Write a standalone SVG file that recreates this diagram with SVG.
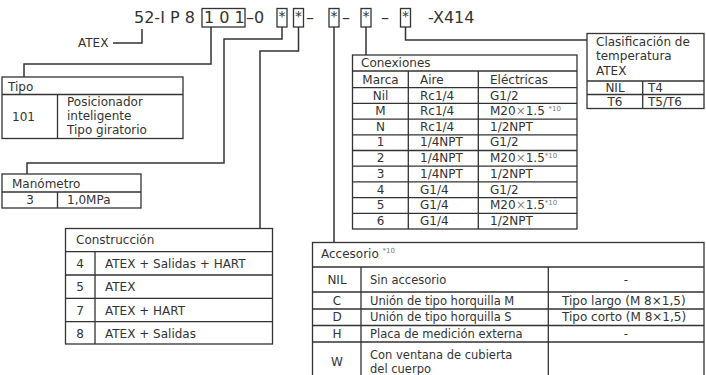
<svg xmlns="http://www.w3.org/2000/svg" width="706" height="375" viewBox="0 0 706 375">
<style>
text{font-family:"DejaVu Sans","Noto Sans",sans-serif;fill:#333;font-size:12px}
.h{font-size:16px}
.c{text-anchor:middle}
.s{font-size:11.5px}
.b{fill:none;stroke:#333;stroke-width:1.3}
.w{fill:#fff;stroke:#333;stroke-width:1.3}
.ln{fill:none;stroke:#333;stroke-width:1.5}
.g{fill:#888}
.sup{font-size:7px;fill:#777}
.ast{font-size:14px}
</style>
<rect width="706" height="375" fill="#fff"/>
<g id="code">
<text class="h" x="134" y="23">52-I P 8</text>
<rect class="b" x="202" y="8.5" width="43" height="18.5"/>
<text class="h" x="204" y="23">1 0 1</text>
<text class="h" x="246" y="23">–0</text>
<rect class="b" x="277" y="8.5" width="10" height="18.5"/>
<text class="ast c" x="282" y="21">*</text>
<rect class="b" x="293.5" y="8.5" width="10" height="18.5"/>
<text class="ast c" x="298.5" y="21">*</text>
<text class="h" x="306" y="23">–</text>
<rect class="b" x="329" y="8.5" width="10" height="18.5"/>
<text class="ast c" x="334" y="21">*</text>
<text class="h" x="342" y="23">–</text>
<rect class="b" x="361" y="8.5" width="10" height="18.5"/>
<text class="ast c" x="366" y="21">*</text>
<text class="h" x="381" y="23">–</text>
<rect class="b" x="400.5" y="8.5" width="10" height="18.5"/>
<text class="ast c" x="405.5" y="21">*</text>
<text class="h" x="428" y="23">-X414</text>
<text x="78" y="47">ATEX</text>
</g>
<g id="connectors">
<path class="ln" d="M113,43 H142 V29"/>
<path class="ln" d="M211,27 V64 H24 V77"/>
<path class="ln" d="M282,27 V39 H224 V163 H27 V174"/>
<path class="ln" d="M298.5,27 V51 H260 V228.5"/>
<path class="ln" d="M334,27 V242.5"/>
<path class="ln" d="M366,27 V55"/>
<path class="ln" d="M405.5,27 V40 H587"/>
</g>
<g id="tipo">
<rect class="w" x="2" y="77" width="181" height="61.5"/>
<path class="b" d="M2,94.5 H183 M57.5,94.5 V138.5"/>
<text x="8" y="91">Tipo</text>
<text x="12" y="121">101</text>
<text x="67" y="106">Posicionador</text>
<text x="67" y="120">inteligente</text>
<text x="67" y="134">Tipo giratorio</text>
</g>
<g id="manometro">
<rect class="w" x="2" y="174" width="139" height="34"/>
<path class="b" d="M2,192 H141 M57.5,192 V208"/>
<text x="12" y="188">Manómetro</text>
<text class="c" x="30" y="204">3</text>
<text x="67" y="204">1,0MPa</text>
</g>
<g id="construccion">
<rect class="w" x="65.5" y="228.5" width="207" height="115.5"/>
<path class="b" d="M65.5,251.7 H272.5 M65.5,275 H272.5 M65.5,298.3 H272.5 M65.5,321.7 H272.5 M95,251.7 V344"/>
<text x="76" y="244">Construcción</text>
<text class="c" x="80" y="268">4</text><text x="105" y="268">ATEX + Salidas + HART</text>
<text class="c" x="80" y="291">5</text><text x="105" y="291">ATEX</text>
<text class="c" x="80" y="314.5">7</text><text x="105" y="314.5">ATEX + HART</text>
<text class="c" x="80" y="338">8</text><text x="105" y="338">ATEX + Salidas</text>
</g>
<g id="conexiones">
<rect class="w" x="352.5" y="55" width="224.5" height="174"/>
<path class="b" d="M352.5,71 H577 M352.5,87.7 H577 M352.5,103.4 H577 M352.5,119.1 H577 M352.5,134.8 H577 M352.5,150.5 H577 M352.5,166.2 H577 M352.5,181.9 H577 M352.5,197.6 H577 M352.5,213.3 H577 M408.3,71 V229 M478.3,71 V229"/>
<text x="361" y="67">Conexiones</text>
<text class="c" x="380.5" y="83.5">Marca</text><text x="420" y="83.5">Aire</text><text x="490" y="83.5">Eléctricas</text>
<text class="c" x="380.5" y="99.5">Nil</text><text x="420" y="99.5">Rc1/4</text><text x="490" y="99.5">G1/2</text>
<text class="c" x="380.5" y="115">M</text><text x="420" y="115">Rc1/4</text><text x="490" y="115">M20<tspan class="g">×</tspan>1.5 <tspan class="sup" dy="-4">*10</tspan></text>
<text class="c" x="380.5" y="130.7">N</text><text x="420" y="130.7">Rc1/4</text><text x="490" y="130.7">1/2NPT</text>
<text class="c" x="380.5" y="146.4">1</text><text x="420" y="146.4">1/4NPT</text><text x="490" y="146.4">G1/2</text>
<text class="c" x="380.5" y="162.1">2</text><text x="420" y="162.1">1/4NPT</text><text x="490" y="162.1">M20<tspan class="g">×</tspan>1.5<tspan class="sup" dy="-4">*10</tspan></text>
<text class="c" x="380.5" y="177.8">3</text><text x="420" y="177.8">1/4NPT</text><text x="490" y="177.8">1/2NPT</text>
<text class="c" x="380.5" y="193.5">4</text><text x="420" y="193.5">G1/4</text><text x="490" y="193.5">G1/2</text>
<text class="c" x="380.5" y="209.2">5</text><text x="420" y="209.2">G1/4</text><text x="490" y="209.2">M20<tspan class="g">×</tspan>1.5<tspan class="sup" dy="-4">*10</tspan></text>
<text class="c" x="380.5" y="224.9">6</text><text x="420" y="224.9">G1/4</text><text x="490" y="224.9">1/2NPT</text>
</g>
<g id="clasificacion">
<rect class="w" x="587" y="33.5" width="117" height="75"/>
<path class="b" d="M587,81 H704 M587,94.5 H704 M642.7,81 V108.5"/>
<text x="596" y="46">Clasificación de</text>
<text x="596" y="60">temperatura</text>
<text x="596" y="75">ATEX</text>
<text class="c" x="615" y="92">NIL</text><text x="648" y="92">T4</text>
<text class="c" x="615" y="106">T6</text><text x="648" y="106">T5/T6</text>
</g>
<g id="accesorio">
<rect class="w" x="312.5" y="242.5" width="391.5" height="140"/>
<path class="b" d="M312.5,267 H704 M312.5,292 H704 M312.5,309 H704 M312.5,325.5 H704 M312.5,342 H704 M361,267 V383 M548.3,267 V383"/>
<text x="321" y="258">Accesorio <tspan class="sup" dy="-5">*10</tspan></text>
<text class="c" x="337" y="283.5">NIL</text><text class="s" x="370" y="283.5">Sin accesorio</text><text class="c" x="626" y="283.5">-</text>
<text class="c" x="337" y="304.5">C</text><text class="s" x="370" y="304.5">Unión de tipo horquilla M</text><text x="562" y="304.5">Tipo largo (M 8×1,5)</text>
<text class="c" x="337" y="321">D</text><text class="s" x="370" y="321">Unión de tipo horquilla S</text><text x="562" y="321">Tipo corto (M 8×1,5)</text>
<text class="c" x="337" y="337.5">H</text><text class="s" x="370" y="337.5">Placa de medición externa</text><text class="c" x="626" y="337.5">-</text>
<text class="c" x="337" y="366">W</text><text class="s" x="370" y="359">Con ventana de cubierta</text><text class="s" x="370" y="373">del cuerpo</text>
</g>
</svg>
